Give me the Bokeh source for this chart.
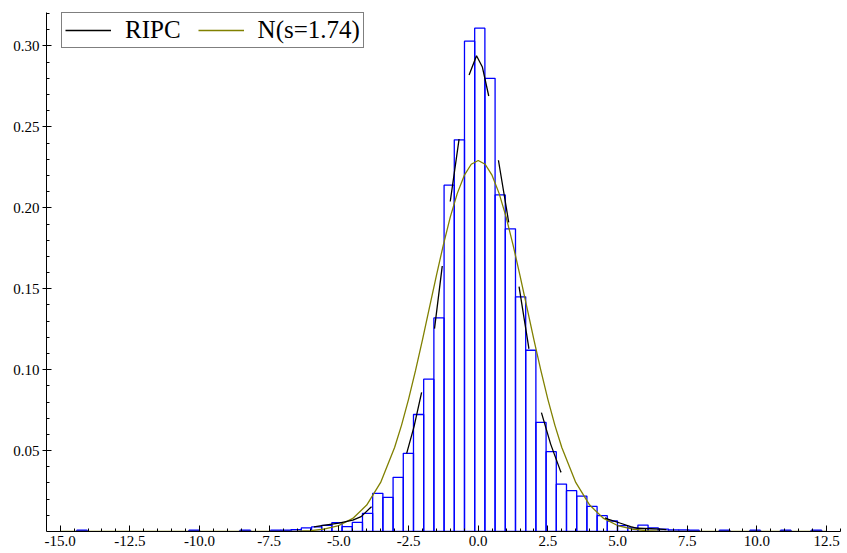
from bokeh.plotting import figure
from bokeh.models import FixedTicker, NumeralTickFormatter, Legend, LegendItem, ColumnDataSource, Range1d
from bokeh.embed import file_html
from bokeh.resources import INLINE

# ---- data ----
first_edge = -14.40
bin_width = 0.366
density = [
    0.0008, 0, 0, 0, 0, 0, 0, 0, 0, 0,
    0, 0.0008, 0, 0, 0, 0, 0.0008, 0, 0, 0.0008,
    0.0008, 0.0012, 0.0022, 0.0028, 0.0038, 0.0055, 0.0030, 0.0056, 0.0112, 0.0236,
    0.0211, 0.0335, 0.0483, 0.0723, 0.0941, 0.132, 0.214, 0.242, 0.303, 0.311,
    0.280, 0.208, 0.187, 0.145, 0.112, 0.0674, 0.0493, 0.0293, 0.0252, 0.0219,
    0.0155, 0.0098, 0.0065, 0.0036, 0.0023, 0.0040, 0.0023, 0.0015, 0.0010, 0.0010,
    0.0008, 0, 0, 0.0008, 0, 0, 0.0008, 0, 0, 0.0008,
    0, 0, 0.0008, 0,
]

norm_x = [-15.0, -7.0, -6.5, -6.0, -5.5, -5.0, -4.5, -4.0, -3.5, -3.0, -2.75, -2.5, -2.25, -2.0,
          -1.75, -1.5, -1.25, -1.0, -0.75, -0.5, -0.25, 0.0, 0.25, 0.5, 0.75, 1.0, 1.25, 1.5,
          1.75, 2.0, 2.25, 2.5, 2.75, 3.0, 3.5, 4.0, 4.5, 5.0, 5.5, 6.0, 6.5, 7.0, 12.5]
norm_y = [0.0, 0.00007, 0.00021, 0.00060, 0.00155, 0.00369, 0.00809, 0.01632, 0.03032, 0.05187,
          0.06576, 0.08168, 0.09937, 0.11844, 0.13827, 0.15813, 0.17714, 0.19438, 0.20894, 0.22000,
          0.22693, 0.22928, 0.22693, 0.22000, 0.20894, 0.19438, 0.17714, 0.15813, 0.13827, 0.11844,
          0.09937, 0.08168, 0.06576, 0.05187, 0.03032, 0.01632, 0.00809, 0.00369, 0.00155, 0.00060,
          0.00021, 0.00007, 0.0]

ripc_x = [-7.5, -7.0, -6.5, -6.0, -5.5, -5.0, -4.5, -4.2, -3.85, -3.5, -3.0, -2.57, -2.3, -2.03,
          -1.8, -1.57, -1.29, -1.01, -0.69, -0.33, -0.06, 0.15, 0.38, 0.72, 1.01, 1.46, 1.82,
          2.26, 2.6, 2.96, 3.3, 3.7, 4.27, 4.68, 5.11, 5.47, 5.71, 6.2, 6.54, 7.0, 7.5]
ripc_y = [0.0003, 0.0006, 0.0012, 0.0025, 0.0040, 0.0052, 0.0070, 0.0092, 0.0150, 0.020, 0.030,
          0.048, 0.065, 0.086, 0.105, 0.125, 0.164, 0.203, 0.242, 0.282, 0.294, 0.287, 0.269,
          0.230, 0.200, 0.152, 0.113, 0.074, 0.054, 0.037, 0.026, 0.018, 0.0102, 0.0075, 0.0051,
          0.0030, 0.0020, 0.0017, 0.0015, 0.0008, 0.0003]

x_ticks = [-15.0, -12.5, -10.0, -7.5, -5.0, -2.5, 0.0, 2.5, 5.0, 7.5, 10.0, 12.5]
y_ticks = [0.05, 0.10, 0.15, 0.20, 0.25, 0.30]

# ---- derived ----
bars = [(first_edge + i * bin_width, d) for i, d in enumerate(density) if d > 0]
src = ColumnDataSource(dict(
    left=[b[0] for b in bars],
    right=[b[0] + bin_width for b in bars],
    top=[b[1] for b in bars],
))

x_minor = [x_ticks[0] - 0.5 + 0.5 * k for k in range(0, 60)]
y_minor = [0.01 * k for k in range(1, 33)]

FONT = "Liberation Serif"

p = figure(frame_width=794, frame_height=519, output_backend="svg", toolbar_location=None,
           x_range=Range1d(-15.49, 13.0), y_range=Range1d(0, 0.3207),
           min_border_left=46, min_border_right=7, min_border_top=12, min_border_bottom=22)
p.outline_line_color = None
p.grid.visible = False
p.background_fill_color = "white"

p.quad(left="left", right="right", top="top", bottom=0, source=src,
       fill_color=None, line_color="#0000FF", line_width=1.3)
r_norm = p.line(norm_x, norm_y, line_color="#808000", line_width=1.3)
r_ripc = p.line(ripc_x, ripc_y, line_color="black", line_width=1.3,
                line_dash="63 65", line_dash_offset=83)
# solid key for the legend entry of the dashed RIPC curve (mirrored far below the
# visible y range, so it is clipped away and only its legend sample shows)
r_ripc_key = p.line(ripc_x, [-1.0 - v for v in ripc_y], line_color="black", line_width=1.3)

xa = p.xaxis[0]
xa.ticker = FixedTicker(ticks=x_ticks, minor_ticks=x_minor)
xa.formatter = NumeralTickFormatter(format="0.0")
xa.major_tick_in = 6
xa.major_tick_out = 0
xa.minor_tick_in = 3
xa.minor_tick_out = 0
xa.major_label_standoff = 4
xa.major_label_text_font = FONT
xa.major_label_text_font_size = "15px"
xa.major_label_text_color = "black"
xa.axis_line_color = "black"

ya = p.yaxis[0]
ya.ticker = FixedTicker(ticks=y_ticks, minor_ticks=y_minor)
ya.formatter = NumeralTickFormatter(format="0.00")
ya.major_tick_in = 5
ya.major_tick_out = 4
ya.minor_tick_in = 3
ya.minor_tick_out = 0
ya.major_label_standoff = 3
ya.major_label_text_font = FONT
ya.major_label_text_font_size = "15px"
ya.major_label_text_color = "black"
ya.axis_line_color = "black"

legend = Legend(items=[LegendItem(label="RIPC", renderers=[r_ripc_key]),
                       LegendItem(label="N(s=1.74)", renderers=[r_norm])],
                orientation="horizontal", location=(15, 483))
legend.border_line_color = "black"
legend.border_line_width = 1
legend.background_fill_color = "white"
legend.background_fill_alpha = 1.0
legend.label_text_font = FONT
legend.label_text_font_size = "25px"
legend.label_text_color = "black"
legend.glyph_width = 46
legend.glyph_height = 20
legend.label_standoff = 14
legend.spacing = 17
legend.padding = 3
legend.margin = 0
p.add_layout(legend, "center")

open("out.html", "w").write(file_html(p, INLINE))
